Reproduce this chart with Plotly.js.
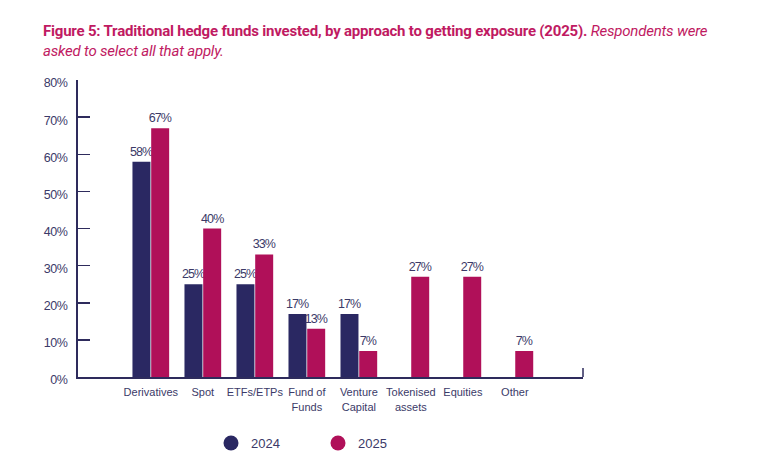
<!DOCTYPE html>
<html>
<head>
<meta charset="utf-8">
<script src="https://cdn.plot.ly/plotly-3.0.1.min.js"></script>
<style>
html,body{margin:0;padding:0;background:#fff;}
#chart{width:758px;height:467px;}
.gtitle{letter-spacing:-0.2px;}
text.bartext, .bartext text{letter-spacing:-0.9px;}
.ytick text, text.ytick{letter-spacing:-0.4px;}
</style>
</head>
<body>
<div id="chart"></div>
<script>
const categories = ["Derivatives", "Spot", "ETFs/ETPs", "Fund of<br>Funds", "Venture<br>Capital", "Tokenised<br>assets", "Equities", "Other"];
const values2024 = [58, 25, 25, 17, 17, 0, 0, 0];
const values2025 = [67, 40, 33, 13, 7, 27, 27, 7];
const yTickVals = [0, 10, 20, 30, 40, 50, 60, 70, 80];
const yTickText = ["0%", "10%", "20%", "30%", "40%", "50%", "60%", "70%", "80%"];
const seriesNames = ["2024", "2025"];

const navy = "#2a2862";
const magenta = "#b01059";
const textCol = "#3b3a68";
const labelFont = {family: "Liberation Sans, Arial, sans-serif", size: 12.5, color: textCol};

function lbl(arr){ return arr.map(v => v > 0 ? v + "%" : ""); }

const data = [
  {type: "bar", x: categories, y: values2024, name: seriesNames[0], marker: {color: navy},
   text: lbl(values2024), textposition: "outside", textfont: labelFont, cliponaxis: false,
   constraintext: "none", textangle: 0,
   showlegend: false, hoverinfo: "skip"},
  {type: "bar", x: categories, y: values2025, name: seriesNames[1], marker: {color: magenta},
   text: lbl(values2025), textposition: "outside", textfont: labelFont, cliponaxis: false,
   constraintext: "none", textangle: 0,
   showlegend: false, hoverinfo: "skip"},
  {type: "scatter", mode: "markers", x: [null], y: [null], name: seriesNames[0],
   marker: {color: navy, size: 15, symbol: "circle"}, showlegend: true},
  {type: "scatter", mode: "markers", x: [null], y: [null], name: seriesNames[1],
   marker: {color: magenta, size: 15, symbol: "circle"}, showlegend: true}
];

const layout = {
  width: 758, height: 467,
  paper_bgcolor: "#fff", plot_bgcolor: "#fff",
  margin: {l: 78, r: 175, t: 80, b: 90},
  barmode: "group", bargap: 0.28, bargroupgap: 0.04,
  title: {
    text: "<b>Figure 5: Traditional hedge funds invested, by approach to getting exposure (2025).</b><i> Respondents were<br>asked to select all that apply.</i>",
    font: {family: "Roboto, Arial, sans-serif", size: 15, color: "#c01a62"},
    x: 43/758, xanchor: "left", xref: "container",
    y: 1 - 36/467, yanchor: "top", yref: "container"
  },
  xaxis: {
    type: "category", range: [-1.40, 8.31], fixedrange: true,
    showline: true, linecolor: "#2e2b5c", linewidth: 2,
    ticks: "", showgrid: false, zeroline: false,
    ticklabelstandoff: 4,
    tickfont: {family: "Liberation Sans, Arial, sans-serif", size: 11, color: textCol}
  },
  yaxis: {
    range: [0, 80], fixedrange: true,
    tickvals: yTickVals, ticktext: yTickText,
    showline: true, linecolor: "#2e2b5c", linewidth: 2,
    ticks: "inside", ticklen: 12, tickwidth: 1.5, tickcolor: "#2e2b5c",
    ticklabelstandoff: 6, ticklabelshift: 3,
    showgrid: false, zeroline: false,
    tickfont: {family: "Liberation Sans, Arial, sans-serif", size: 12.5, color: textCol}
  },
  shapes: [
    {type: "line", xref: "paper", yref: "paper", x0: 1, x1: 1, y0: 0, y1: 0.03,
     line: {color: "#2e2b5c", width: 1.5}}
  ],
  showlegend: true,
  legend: {
    orientation: "h", xref: "container", yref: "container",
    x: 211/758, xanchor: "left", y: 1 - 443/467, yanchor: "middle",
    font: {family: "Liberation Sans, Arial, sans-serif", size: 13, color: textCol},
    entrywidth: 62, entrywidthmode: "pixels",
    bgcolor: "rgba(0,0,0,0)"
  }
};

Plotly.newPlot("chart", data, layout, {staticPlot: true, displayModeBar: false});
</script>
</body>
</html>
